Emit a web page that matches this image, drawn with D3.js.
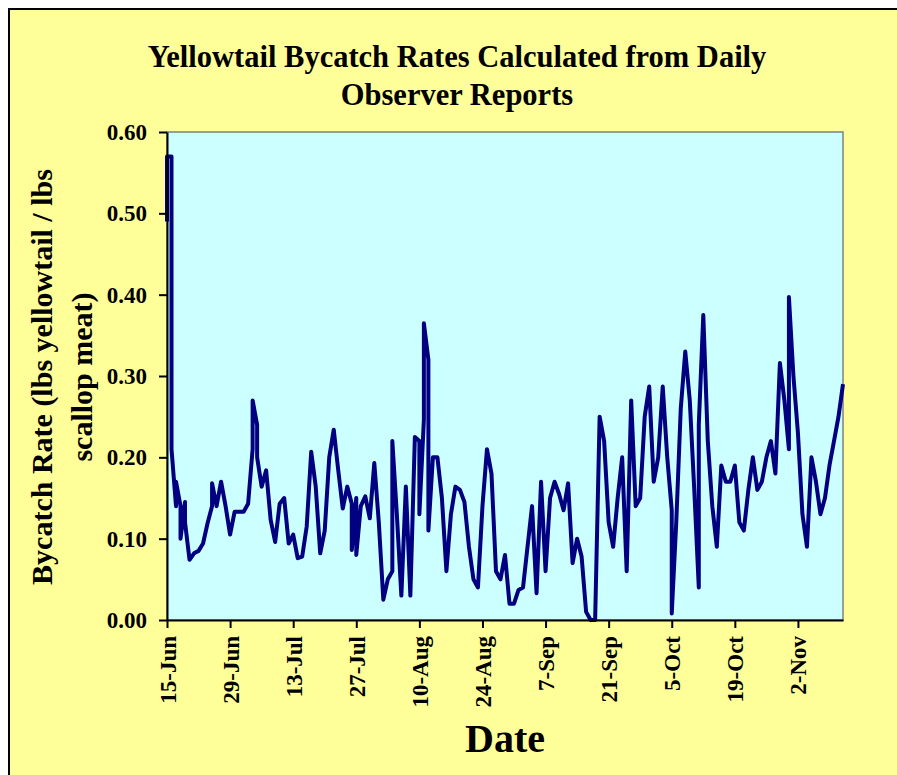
<!DOCTYPE html>
<html>
<head>
<meta charset="utf-8">
<script src="https://cdn.jsdelivr.net/npm/d3@7"></script>
<style>
  body { margin: 0; background: #fff; }
  svg text { font-family: "Liberation Serif", "Times New Roman", serif; font-weight: bold; fill: #000; }
</style>
</head>
<body>
<svg id="chart" width="897" height="775"></svg>
<script>
// --- Data ---
// Season start; every day after it is an offset into dailyRates
const startLabel = "15-Jun";
// Observer report rates per day (days with several reports list each one)
const dailyRates = [
  [0.49, 0.57], [0.57, 0.35, 0.21], [0.14, 0.17], [0.14, 0.10], [0.145, 0.12],
  [0.074], [0.082], [0.085], [0.094], [0.119],
  [0.14, 0.168], [0.14], [0.17], [0.14], [0.105],
  [0.133], [0.133], [0.133], [0.143], [0.21, 0.27],
  [0.24, 0.20], [0.164], [0.184], [0.123], [0.096],
  [0.143], [0.15], [0.094], [0.105], [0.076],
  [0.078], [0.115], [0.207], [0.164], [0.082],
  [0.11], [0.20], [0.234], [0.184], [0.137],
  [0.164], [0.143, 0.086], [0.15, 0.08], [0.14], [0.152],
  [0.125], [0.193], [0.12], [0.025], [0.05],
  [0.06, 0.22], [0.13], [0.03], [0.164], [0.03],
  [0.225], [0.22, 0.13], [0.246, 0.365], [0.32, 0.11], [0.20],
  [0.20], [0.15], [0.06], [0.13], [0.164],
  [0.16], [0.145], [0.09], [0.05], [0.04],
  [0.14], [0.21], [0.18], [0.06], [0.05],
  [0.08], [0.02], [0.02], [0.037], [0.04],
  [0.09], [0.14], [0.033], [0.17], [0.06],
  [0.15], [0.17], [0.155], [0.135], [0.168],
  [0.07], [0.10], [0.078], [0.01], [0.0],
  [0.0], [0.25], [0.22], [0.12], [0.09],
  [0.15], [0.20], [0.06], [0.27], [0.14],
  [0.15], [0.25], [0.287], [0.17], [0.20],
  [0.287], [0.20], [0.135, 0.008], [0.12], [0.26],
  [0.33], [0.27], [0.16], [0.04, 0.24], [0.375],
  [0.22], [0.14], [0.09], [0.19], [0.17],
  [0.17], [0.19], [0.12], [0.11], [0.16],
  [0.20], [0.16], [0.17], [0.20], [0.22],
  [0.18], [0.316], [0.27], [0.21, 0.397], [0.30],
  [0.23], [0.13], [0.09], [0.20], [0.17],
  [0.13], [0.15], [0.19], [0.22], [0.25],
  [0.29]
];
// Axis ticks
const xTickLabels = ["15-Jun", "29-Jun", "13-Jul", "27-Jul", "10-Aug", "24-Aug",
                     "7-Sep", "21-Sep", "5-Oct", "19-Oct", "2-Nov"];
const yTicks = [0, 0.1, 0.2, 0.3, 0.4, 0.5, 0.6];
const titleLines = ["Yellowtail Bycatch Rates Calculated from Daily", "Observer Reports"];
const yLabelLines = ["Bycatch Rate (lbs yellowtail / lbs", "scallop meat)"];
const xLabel = "Date";

// --- Layout ---
const svg = d3.select("#chart");
const plot = { left: 167, top: 132, right: 843, bottom: 620 };

const parseDay = d3.timeParse("%d-%b");
const startDate = parseDay(startLabel);

// flatten into one point per report, reports on the same day share an x
const reports = [];
dailyRates.forEach((rates, i) => {
    const date = d3.timeDay.offset(startDate, i);
    rates.forEach(r => reports.push({ date: date, rate: r }));
});

const x = d3.scaleTime()
    .domain([startDate, d3.timeDay.offset(startDate, dailyRates.length - 1)])
    .range([plot.left, plot.right]);
const y = d3.scaleLinear()
    .domain([0, 0.6])
    .range([plot.bottom, plot.top]);

// chart background with black frame on the left and top
svg.append("rect")
    .attr("x", 9).attr("y", 9)
    .attr("width", 900).attr("height", 780)
    .attr("fill", "#FFFF99")
    .attr("stroke", "#000")
    .attr("stroke-width", 2);

// plot area
svg.append("rect")
    .attr("x", plot.left).attr("y", plot.top)
    .attr("width", plot.right - plot.left)
    .attr("height", plot.bottom - plot.top)
    .attr("fill", "#CCFFFF")
    .attr("stroke", "#808080")
    .attr("stroke-width", 1.5);

// series
svg.append("path")
    .datum(reports)
    .attr("fill", "none")
    .attr("stroke", "#000080")
    .attr("stroke-width", 4)
    .attr("stroke-linejoin", "round")
    .attr("d", d3.line().x(d => x(d.date)).y(d => y(d.rate)));

// y axis
const yAxis = svg.append("g")
    .attr("transform", `translate(${plot.left},0)`)
    .call(d3.axisLeft(y).tickValues(yTicks).tickFormat(d3.format(".2f"))
        .tickSize(8).tickSizeOuter(0).tickPadding(12));
yAxis.selectAll("text").style("font-size", "23px");

// x axis
const xAxis = svg.append("g")
    .attr("transform", `translate(0,${plot.bottom})`)
    .call(d3.axisBottom(x).tickValues(xTickLabels.map(parseDay))
        .tickFormat(d3.timeFormat("%-d-%b")).tickSize(8).tickSizeOuter(0));
xAxis.selectAll("text")
    .style("font-size", "23px")
    .attr("transform", "rotate(-90)")
    .attr("text-anchor", "end")
    .attr("x", -16)
    .attr("y", 0)
    .attr("dy", "0.35em");

svg.selectAll(".domain, .tick line")
    .attr("stroke", "#000")
    .attr("stroke-width", 2);

// title
svg.append("text")
    .attr("text-anchor", "middle")
    .style("font-size", "30.5px")
    .selectAll("tspan")
    .data(titleLines)
    .join("tspan")
    .attr("x", 457)
    .attr("y", (d, i) => 67 + i * 38)
    .text(d => d);

// y axis title
yLabelLines.forEach((line, i) => {
    svg.append("text")
        .attr("transform", `translate(${52 + i * 40},377) rotate(-90)`)
        .attr("text-anchor", "middle")
        .style("font-size", "30px")
        .text(line);
});

// x axis title
svg.append("text")
    .attr("x", (plot.left + plot.right) / 2)
    .attr("y", 752)
    .attr("text-anchor", "middle")
    .style("font-size", "40px")
    .text(xLabel);
</script>
</body>
</html>
